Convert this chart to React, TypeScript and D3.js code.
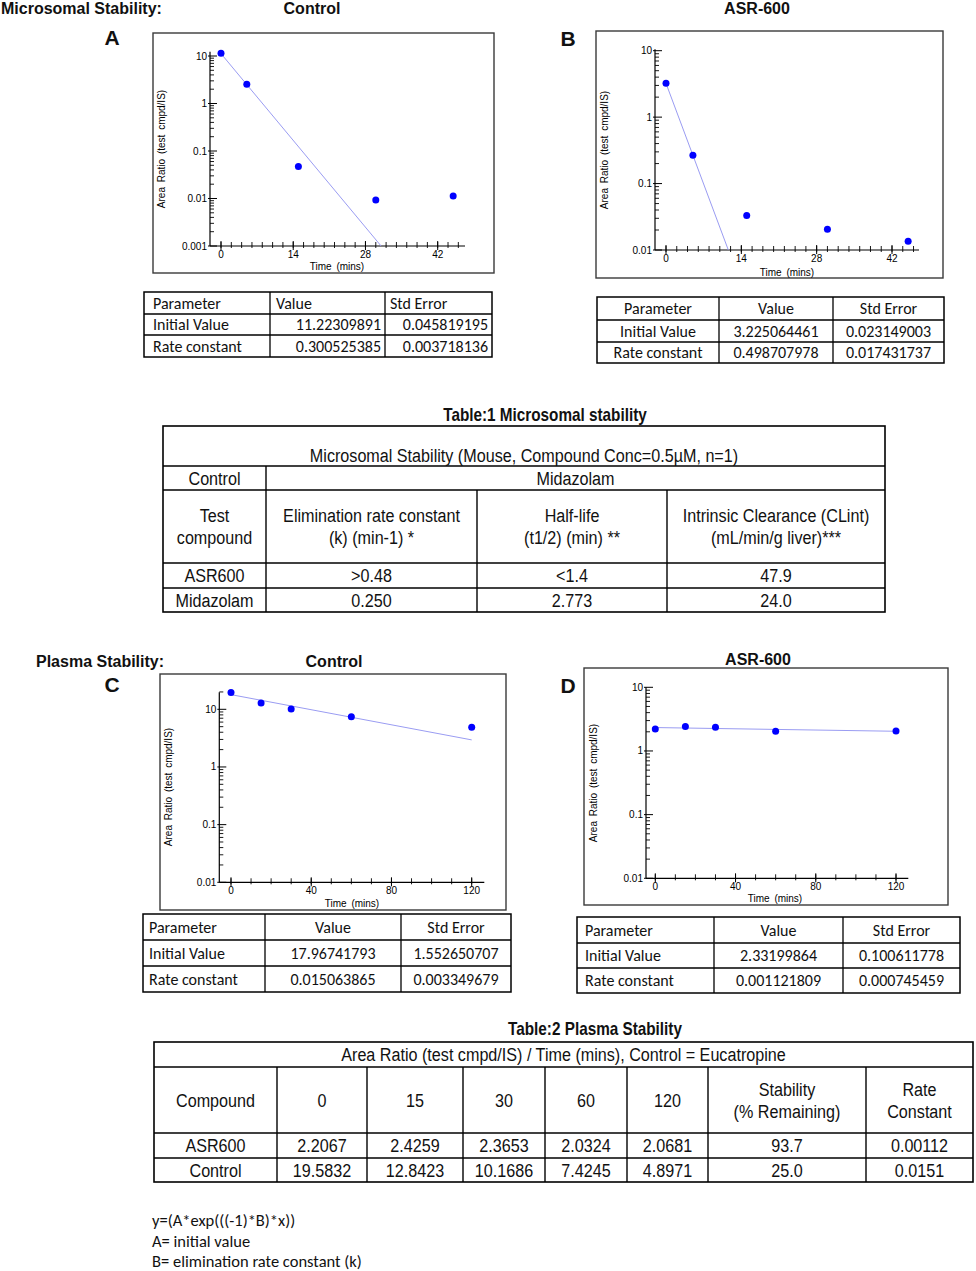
import React from 'react';
import * as d3 from 'd3';

// --- values ---

// microsomal stability, area ratio vs time (plots A and B)
const microTimes = [0, 5, 15, 30, 45];
const microControl = [11.4, 2.54, 0.047, 0.0093, 0.0113];
const microAsr = [3.23, 0.266, 0.0332, 0.0206, 0.0135];

// plasma stability (Table 2, also plotted in C and D)
const plasmaTimes = [0, 15, 30, 60, 120];
const plasmaAsr = [2.2067, 2.4259, 2.3653, 2.0324, 2.0681];
const plasmaControl = [19.5832, 12.8423, 10.1686, 7.4245, 4.8971];

// fit parameters: rows = Initial Value, Rate constant ; cols = Value, Std Error
const paramHeader = ['Parameter', 'Value', 'Std Error'];
const paramLabels = ['Initial Value', 'Rate constant'];
const paramsA = [['11.22309891', '0.045819195'], ['0.300525385', '0.003718136']];
const paramsB = [['3.225064461', '0.023149003'], ['0.498707978', '0.017431737']];
const paramsC = [['17.96741793', '1.552650707'], ['0.015063865', '0.003349679']];
const paramsD = [['2.33199864', '0.100611778'], ['0.001121809', '0.000745459']];

const microXTicks = [0, 14, 28, 42];
const plasmaXTicks = [0, 40, 80, 120];
const yTicksA = [0.001, 0.01, 0.1, 1, 10];
const yTicksBCD = [0.01, 0.1, 1, 10];

const t1Title = 'Table:1 Microsomal stability';
const t1Header = 'Microsomal Stability (Mouse, Compound Conc=0.5\u00b5M, n=1)';
const t1Control = ['Control', 'Midazolam'];
const t1Columns = [
  ['Test', 'compound'],
  ['Elimination rate constant', '(k) (min-1) *'],
  ['Half-life', '(t1/2) (min) **'],
  ['Intrinsic Clearance (CLint)', '(mL/min/g liver)***'],
];
const t1Rows = [
  ['ASR600', '>0.48', '<1.4', '47.9'],
  ['Midazolam', '0.250', '2.773', '24.0'],
];

const t2Title = 'Table:2 Plasma Stability';
const t2Header = 'Area Ratio (test cmpd/IS) / Time (mins), Control = Eucatropine';
const t2Columns = [['Compound'], ['0'], ['15'], ['30'], ['60'], ['120'], ['Stability', '(% Remaining)'], ['Rate', 'Constant']];
const stabilityPct = ['93.7', '25.0'];
const rateConst = ['0.00112', '0.0151'];

const footnotes = ['y=(A*exp(((-1)*B)*x))', 'A= initial value', 'B= elimination rate constant (k)'];

// --- styling ---
const ARIAL = "'Liberation Sans', Arial, Helvetica, sans-serif";
const CALIBRI = "Carlito, Calibri, Lato, sans-serif";
const DOT = '#0000ff';
const FIT = '#9a9cf2';
const NARROW = 0.85;

type ChartCfg = {
  frame: [number, number, number, number];
  yAxisX: number; xAxisY: number; xEnd: number; yEnd: number;
  xr: [number, number]; yr: [number, number];
  yTitle: [number, number]; xTitle: [number, number];
};

const cfgA: ChartCfg = { frame: [153, 33, 494, 273], yAxisX: 210, xAxisY: 246, xEnd: 465, yEnd: 51.7, xr: [221, 437.7], yr: [246, 56], yTitle: [161, 149], xTitle: [337, 270] };
const cfgB: ChartCfg = { frame: [596, 31, 943, 278], yAxisX: 655, xAxisY: 250, xEnd: 919, yEnd: 49.3, xr: [666, 892], yr: [250, 50.7], yTitle: [604, 150], xTitle: [787, 275.5] };
const cfgC: ChartCfg = { frame: [160, 674, 506, 910], yAxisX: 219.3, xAxisY: 882.3, xEnd: 484.3, yEnd: 692.3, xr: [231, 471.7], yr: [882.3, 709.3], yTitle: [168.5, 787], xTitle: [352, 906.5] };
const cfgD: ChartCfg = { frame: [584, 668, 948, 905], yAxisX: 646, xAxisY: 878.3, xEnd: 908.3, yEnd: 687.3, xr: [655.3, 896], yr: [878.3, 687.3], yTitle: [593, 783], xTitle: [775, 901.5] };

const DecayChart = ({ c, times, values, params, xTicks, yTicks, minorStep, minorMax }: any) => {
  const x = d3.scaleLinear().domain([0, xTicks[xTicks.length - 1]]).range(c.xr);
  const y = d3.scaleLog().domain([yTicks[0], 10]).range(c.yr);
  const A = +params[0][0];
  const B = +params[1][0];
  // fitted curve y = A*exp(-B*x), stopped where it leaves the plot
  const tEnd = Math.min(d3.max(times) as number, Math.log(A / yTicks[0]) / B);
  const fitLine = d3.line<number>().x(t => x(t)).y(t => y(A * Math.exp(-B * t)));

  const minor = d3.range(0, minorMax + 0.001, minorStep);
  const yMinor: number[] = [];
  yTicks.forEach((d: number) => {
    for (let k = 2; k <= 9; k++) if (y(d * k) >= c.yEnd - 0.5) yMinor.push(d * k);
  });

  const [fx0, fy0, fx1, fy1] = c.frame;
  return (
    <g>
      <rect x={fx0} y={fy0} width={fx1 - fx0} height={fy1 - fy0} fill="none" stroke="#3a3a3a" strokeWidth={1.4} />
      {/* y axis */}
      <line x1={c.yAxisX} x2={c.yAxisX} y1={c.xAxisY} y2={c.yEnd} stroke="#000" strokeWidth={1.2} />
      {yMinor.map((v, i) => (
        <line key={'ym' + i} x1={c.yAxisX} x2={c.yAxisX + 4} y1={y(v)} y2={y(v)} stroke="#000" strokeWidth={0.9} />
      ))}
      {yTicks.map((v: number, i: number) => (
        <g key={'y' + i}>
          <line x1={c.yAxisX - 2} x2={c.yAxisX + 7} y1={y(v)} y2={y(v)} stroke="#000" strokeWidth={1} />
          <text x={c.yAxisX - 3} y={y(v)} dy="0.35em" textAnchor="end" fontSize={10} fontFamily={ARIAL}>{String(v)}</text>
        </g>
      ))}
      {/* x axis */}
      <line x1={c.yAxisX} x2={c.xEnd} y1={c.xAxisY} y2={c.xAxisY} stroke="#000" strokeWidth={1.2} />
      {minor.map((t, i) => (
        <line key={'xm' + i} x1={x(t)} x2={x(t)} y1={c.xAxisY - 4} y2={c.xAxisY + 2} stroke="#000" strokeWidth={0.9} />
      ))}
      {xTicks.map((t: number, i: number) => (
        <g key={'x' + i}>
          <line x1={x(t)} x2={x(t)} y1={c.xAxisY - 5} y2={c.xAxisY + 4} stroke="#000" strokeWidth={1} />
          <text x={x(t)} y={c.xAxisY + 12} textAnchor="middle" fontSize={10} fontFamily={ARIAL}>{t}</text>
        </g>
      ))}
      {/* fit and points */}
      <path d={fitLine([0, tEnd]) || ''} fill="none" stroke={FIT} strokeWidth={1} />
      {times.map((t: number, i: number) => (
        <circle key={'p' + i} cx={x(t)} cy={y(values[i])} r={3.5} fill={DOT} />
      ))}
      <text transform={`translate(${c.yTitle[0]},${c.yTitle[1]}) rotate(-90)`} dy="0.35em" textAnchor="middle" fontSize={10} fontFamily={ARIAL} wordSpacing={2}>Area Ratio (test cmpd/IS)</text>
      <text x={c.xTitle[0]} y={c.xTitle[1]} textAnchor="middle" fontSize={10} fontFamily={ARIAL} wordSpacing={2}>Time (mins)</text>
    </g>
  );
};

const ParamTable = ({ xs, ys, params, headAlign, bodyAlign, pad }: any) => {
  const rows = [paramHeader, ...paramLabels.map((l, i) => [l, ...params[i]])];
  const tx = (ci: number, a: string) =>
    a === 'start' ? xs[ci] + pad[ci] : a === 'end' ? xs[ci + 1] - 4 : (xs[ci] + xs[ci + 1]) / 2;
  return (
    <g>
      <rect x={xs[0]} y={ys[0]} width={xs[3] - xs[0]} height={ys[3] - ys[0]} fill="none" stroke="#000" strokeWidth={1.5} />
      {[1, 2].map(i => <line key={'h' + i} x1={xs[0]} x2={xs[3]} y1={ys[i]} y2={ys[i]} stroke="#000" strokeWidth={1.3} />)}
      {[1, 2].map(i => <line key={'v' + i} x1={xs[i]} x2={xs[i]} y1={ys[0]} y2={ys[3]} stroke="#000" strokeWidth={1.3} />)}
      {rows.map((r, ri) => r.map((s, ci) => {
        const a = ri === 0 ? headAlign[ci] : bodyAlign[ci];
        return (
          <text key={ri + '-' + ci} x={tx(ci, a)} y={(ys[ri] + ys[ri + 1]) / 2 + 5.6} textAnchor={a} fontSize={16} fontFamily={CALIBRI} fill="#111">{s}</text>
        );
      }))}
    </g>
  );
};

const NText = ({ x, y, children, bold = false, size = 19, anchor = 'middle' }: any) => (
  <text transform={`translate(${x},${y}) scale(${NARROW},1)`} textAnchor={anchor} fontSize={size} fontWeight={bold ? 'bold' : 'normal'} fontFamily={ARIAL} fill="#111">{children}</text>
);

const cellLines = (lines: string[], cx: number, cy: number, key: string) =>
  lines.map((s, i) => (
    <NText key={key + i} x={cx} y={cy + (i - (lines.length - 1) / 2) * 22 + 6.5}>{s}</NText>
  ));

const Table1 = () => {
  const xs = [163, 266, 477, 667, 885];
  const ys = [426, 466, 490, 563, 588, 612];
  const mid = (a: number, b: number) => (a + b) / 2;
  return (
    <g>
      <NText x={545} y={421} bold size={18}>{t1Title}</NText>
      <rect x={xs[0]} y={ys[0]} width={xs[4] - xs[0]} height={ys[5] - ys[0]} fill="none" stroke="#000" strokeWidth={1.6} />
      {ys.slice(1, 5).map((v, i) => <line key={'h' + i} x1={xs[0]} x2={xs[4]} y1={v} y2={v} stroke="#000" strokeWidth={1.4} />)}
      <line x1={xs[1]} x2={xs[1]} y1={ys[1]} y2={ys[5]} stroke="#000" strokeWidth={1.4} />
      {[2, 3].map(i => <line key={'v' + i} x1={xs[i]} x2={xs[i]} y1={ys[2]} y2={ys[5]} stroke="#000" strokeWidth={1.4} />)}
      <NText x={mid(xs[0], xs[4])} y={462}>{t1Header}</NText>
      {cellLines([t1Control[0]], mid(xs[0], xs[1]), mid(ys[1], ys[2]), 'c0')}
      {cellLines([t1Control[1]], mid(xs[1], xs[4]), mid(ys[1], ys[2]), 'c1')}
      {t1Columns.map((lines, ci) => cellLines(lines, mid(xs[ci], xs[ci + 1]), mid(ys[2], ys[3]), 'h' + ci))}
      {t1Rows.map((r, ri) => r.map((s, ci) => cellLines([s], mid(xs[ci], xs[ci + 1]), mid(ys[3 + ri], ys[4 + ri]), 'r' + ri + ci)))}
    </g>
  );
};

const Table2 = () => {
  const xs = [154, 277, 367, 463, 545, 627, 708, 866, 973];
  const ys = [1042, 1067, 1133, 1158, 1182];
  const mid = (a: number, b: number) => (a + b) / 2;
  const rows = [
    ['ASR600', ...plasmaAsr.map(v => v.toFixed(4)), stabilityPct[0], rateConst[0]],
    ['Control', ...plasmaControl.map(v => v.toFixed(4)), stabilityPct[1], rateConst[1]],
  ];
  return (
    <g>
      <NText x={595} y={1035} bold size={18}>{t2Title}</NText>
      <rect x={xs[0]} y={ys[0]} width={xs[8] - xs[0]} height={ys[4] - ys[0]} fill="none" stroke="#000" strokeWidth={1.6} />
      {ys.slice(1, 4).map((v, i) => <line key={'h' + i} x1={xs[0]} x2={xs[8]} y1={v} y2={v} stroke="#000" strokeWidth={1.4} />)}
      {xs.slice(1, 8).map((v, i) => <line key={'v' + i} x1={v} x2={v} y1={ys[1]} y2={ys[4]} stroke="#000" strokeWidth={1.4} />)}
      {cellLines([t2Header], mid(xs[0], xs[8]), mid(ys[0], ys[1]), 'hd')}
      {t2Columns.map((lines, ci) => cellLines(lines, mid(xs[ci], xs[ci + 1]), mid(ys[1], ys[2]), 'c' + ci))}
      {rows.map((r, ri) => r.map((s, ci) => cellLines([s], mid(xs[ci], xs[ci + 1]), mid(ys[2 + ri], ys[3 + ri]), 'r' + ri + ci)))}
    </g>
  );
};

const Heading = ({ x, y, children, size = 16, anchor = 'middle' }: any) => (
  <text x={x} y={y} textAnchor={anchor} fontSize={size} fontWeight="bold" fontFamily={ARIAL} fill="#111">{children}</text>
);

export default function App() {
  return (
    <svg width={976} height={1271} style={{ position: 'absolute', left: 0, top: 0, background: '#fff' }}>
      <rect width={976} height={1271} fill="#fff" />
      <Heading x={1} y={14} anchor="start">Microsomal Stability:</Heading>
      <Heading x={312} y={14}>Control</Heading>
      <Heading x={757} y={14}>ASR-600</Heading>
      <Heading x={112} y={45} size={21}>A</Heading>
      <Heading x={568} y={46} size={21}>B</Heading>

      <DecayChart c={cfgA} times={microTimes} values={microControl} params={paramsA} xTicks={microXTicks} yTicks={yTicksA} minorStep={2} minorMax={46} />
      <DecayChart c={cfgB} times={microTimes} values={microAsr} params={paramsB} xTicks={microXTicks} yTicks={yTicksBCD} minorStep={2} minorMax={46} />

      <ParamTable xs={[144, 270, 385, 492]} ys={[292, 314, 335, 357]} params={paramsA}
        headAlign={['start', 'start', 'start']} bodyAlign={['start', 'end', 'end']} pad={[9, 6, 5]} />
      <ParamTable xs={[597, 719, 833, 944]} ys={[297, 320, 342, 363]} params={paramsB}
        headAlign={['middle', 'middle', 'middle']} bodyAlign={['middle', 'middle', 'middle']} pad={[6, 6, 6]} />

      <Table1 />

      <Heading x={36} y={667} anchor="start">Plasma Stability:</Heading>
      <Heading x={334} y={667}>Control</Heading>
      <Heading x={758} y={665}>ASR-600</Heading>
      <Heading x={112} y={692} size={21}>C</Heading>
      <Heading x={568} y={693} size={21}>D</Heading>

      <DecayChart c={cfgC} times={plasmaTimes} values={plasmaControl} params={paramsC} xTicks={plasmaXTicks} yTicks={yTicksBCD} minorStep={10} minorMax={120} />
      <DecayChart c={cfgD} times={plasmaTimes} values={plasmaAsr} params={paramsD} xTicks={plasmaXTicks} yTicks={yTicksBCD} minorStep={10} minorMax={120} />

      <ParamTable xs={[143, 265, 401, 511]} ys={[914, 940, 966, 992]} params={paramsC}
        headAlign={['start', 'middle', 'middle']} bodyAlign={['start', 'middle', 'middle']} pad={[6, 6, 6]} />
      <ParamTable xs={[577, 714, 843, 960]} ys={[917, 943, 968, 993]} params={paramsD}
        headAlign={['start', 'middle', 'middle']} bodyAlign={['start', 'middle', 'middle']} pad={[8, 6, 6]} />

      <Table2 />

      {footnotes.map((s, i) => (
        <text key={i} x={152} y={1226 + i * 20.5} fontSize={16.5} fontFamily={CALIBRI} fill="#111">{s}</text>
      ))}
    </svg>
  );
}
